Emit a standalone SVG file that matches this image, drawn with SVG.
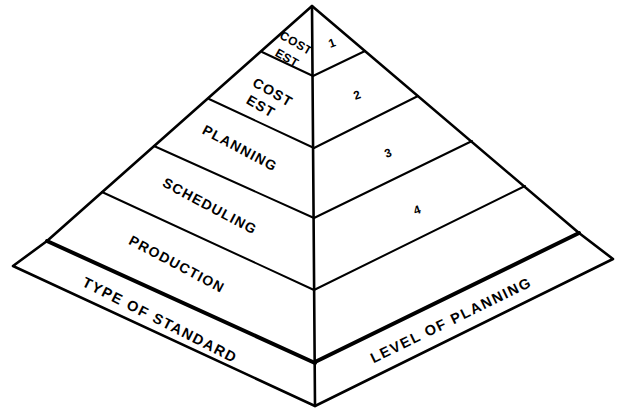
<svg xmlns="http://www.w3.org/2000/svg" width="618" height="408" viewBox="0 0 618 408">
<style>
.ln{fill:none;stroke:#000;stroke-width:2;stroke-linecap:round;stroke-linejoin:round}
.edge{fill:none;stroke:#000;stroke-width:2.6;stroke-linecap:round;stroke-linejoin:round}
.thick{fill:none;stroke:#000;stroke-width:4;stroke-linecap:round}
.t{font-family:"Liberation Sans",Arial,sans-serif;font-weight:bold;font-size:14px;fill:#000;text-anchor:middle;dominant-baseline:central;letter-spacing:1.2px}
.c{font-size:12px;letter-spacing:0.5px}
.b{font-size:14.5px;letter-spacing:1.6px}
.n{font-family:"Liberation Sans",Arial,sans-serif;font-weight:bold;font-size:12px;fill:#000;text-anchor:middle;dominant-baseline:central}
</style>
<rect width="618" height="408" fill="#fff"/>
<g id="connectors">
<polyline class="edge" points="13,266 47,241 312,6 579,233 613,259 315,406 13,266"/>
<line class="edge" x1="312" y1="6" x2="315" y2="406"/>
<line class="ln" x1="262" y1="52" x2="313" y2="76"/>
<line class="ln" x1="209" y1="99" x2="314" y2="148"/>
<line class="ln" x1="154" y1="146" x2="314" y2="218"/>
<line class="ln" x1="102" y1="192" x2="314" y2="290"/>
<line class="ln" x1="313" y1="76" x2="365" y2="51"/>
<line class="ln" x1="314" y1="148" x2="418" y2="96"/>
<line class="ln" x1="314" y1="218" x2="472" y2="141"/>
<line class="ln" x1="314" y1="290" x2="525" y2="186"/>
<line class="thick" x1="47" y1="241" x2="315" y2="363"/>
<line class="thick" x1="315" y1="362" x2="579" y2="233"/>
</g>
<g id="level1">
<text class="t c" transform="translate(296,43) rotate(30)">COST</text>
<text class="t c" transform="translate(287,58) rotate(30)">EST</text>
<text class="n" transform="translate(332,43) rotate(-20)">1</text>
</g>
<g id="level2">
<text class="t" transform="translate(273,92) rotate(30)">COST</text>
<text class="t" transform="translate(261,106) rotate(30)">EST</text>
<text class="n" transform="translate(357,95) rotate(-20)">2</text>
</g>
<g id="level3">
<text class="t" transform="translate(240,148) rotate(28)">PLANNING</text>
<text class="n" transform="translate(388,153) rotate(-20)">3</text>
</g>
<g id="level4">
<text class="t" transform="translate(210,206) rotate(28)">SCHEDULING</text>
<text class="n" transform="translate(417,210) rotate(-20)">4</text>
</g>
<g id="level5">
<text class="t" transform="translate(177,264) rotate(28)">PRODUCTION</text>
</g>
<g id="base-left">
<text class="t b" transform="translate(160,320) rotate(27)">TYPE OF STANDARD</text>
</g>
<g id="base-right">
<text class="t b" transform="translate(451,320) rotate(-26)">LEVEL OF PLANNING</text>
</g>
</svg>
